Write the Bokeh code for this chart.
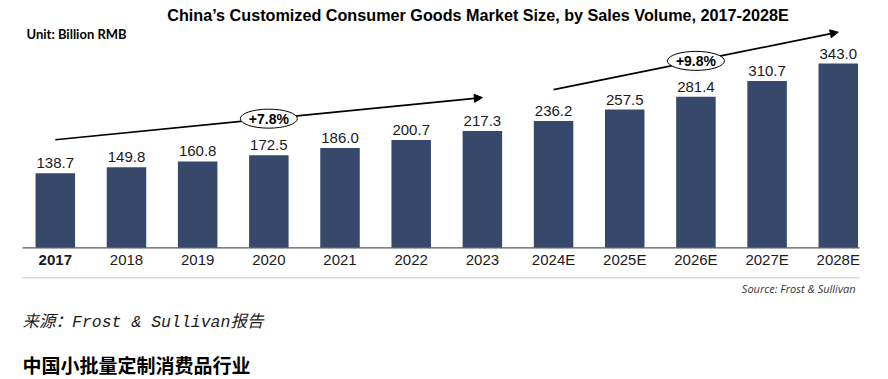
from bokeh.plotting import figure
from bokeh.models import Range1d, Label, Arrow, NormalHead, ColumnDataSource
from bokeh.core.properties import value
from bokeh.embed import file_html
from bokeh.resources import INLINE

# ---------------- data ----------------
years = ["2017", "2018", "2019", "2020", "2021", "2022", "2023",
         "2024E", "2025E", "2026E", "2027E", "2028E"]
sizes = [138.7, 149.8, 160.8, 172.5, 186.0, 200.7, 217.3,
         236.2, 257.5, 281.4, 310.7, 343.0]
cagr_labels = ["+7.8%", "+9.8%"]
cagr_start = ["2017", "2024E"]
cagr_end = ["2023", "2028E"]

title_text = "China\u2019s Customized Consumer Goods Market Size, by Sales Volume, 2017-2028E"
unit_text = "Unit: Billion RMB"
source_text = "Source: Frost & Sullivan"
cn_source_text = "来源：Frost & Sullivan报告"
cn_title_text = "中国小批量定制消费品行业"

# ---------------- styles / layout ----------------
W, H = 888, 379
BAR = "#36496a"
TXT = "#1a1a1a"
SANS = "Liberation Sans"
PX_PER_UNIT = 0.537          # vertical scale
SLOT = 71.18                 # px per category
FIRST_X = 54.8               # px centre of first category
BASE_Y = 247.3               # px of baseline from top
AX_LEFT, AX_RIGHT = 22, 859  # px extent of baseline rule

x0 = (0 - FIRST_X) / SLOT
x1 = (W - FIRST_X) / SLOT
y1 = BASE_Y / PX_PER_UNIT
y0 = -(H - BASE_Y) / PX_PER_UNIT

idx = list(range(len(years)))
src = ColumnDataSource(dict(
    x=idx, top=sizes, lbl=[f"{v:.1f}" for v in sizes], cat=years,
    zero=[0] * len(years),
    cstyle=["bold" if i == 0 else "normal" for i in idx]))

p = figure(width=W, height=H, output_backend="svg", toolbar_location=None,
           x_range=Range1d(x0, x1), y_range=Range1d(y0, y1),
           x_axis_location=None, y_axis_location=None,
           min_border_left=0, min_border_right=0, min_border_top=0,
           min_border_bottom=0)
p.outline_line_color = None
p.grid.grid_line_color = None
p.background_fill_color = "white"
p.border_fill_color = "white"

# bars + value labels
p.vbar(x="x", top="top", bottom=0, width=0.555, source=src,
       fill_color=BAR, line_color=None)
p.text(x="x", y="top", text="lbl", source=src, text_align="center",
       text_baseline="middle", y_offset=-10,
       text_font=value(SANS), text_font_size="15px", text_color=TXT)

# baseline + category labels + grey rule
lx0 = (AX_LEFT - FIRST_X) / SLOT
lx1 = (AX_RIGHT - FIRST_X) / SLOT
p.segment(x0=[lx0], y0=[0], x1=[lx1], y1=[0], line_color="#595959", line_width=1.3)
grey_y = -30 / PX_PER_UNIT
p.segment(x0=[lx0], y0=[grey_y], x1=[lx1], y1=[grey_y], line_color="#c8c8c8", line_width=1)
p.text(x="x", y="zero", text="cat", source=src, text_align="center",
       text_baseline="middle", y_offset=12, text_font=value(SANS),
       text_font_size="15px", text_font_style="cstyle", text_color=TXT)

# CAGR arrows
offsets = [62.5, 58.5]
ex, ey = [], []
for lab, s, e, off in zip(cagr_labels, cagr_start, cagr_end, offsets):
    i0, i1 = years.index(s), years.index(e)
    ya, yb = sizes[i0] + off, sizes[i1] + off
    p.add_layout(Arrow(x_start=i0, y_start=ya, x_end=i1, y_end=yb,
                       line_color="black", line_width=1.7,
                       end=NormalHead(size=8, fill_color="black", line_color="black")))
    ex.append((i0 + i1) / 2)
    ey.append((ya + yb) / 2)

p.ellipse(x=ex, y=ey, width=57, height=19, width_units="screen",
          height_units="screen", fill_color="white", line_color="black",
          line_width=1, level="overlay")
p.text(x=ex, y=ey, text=cagr_labels, text_align="center", text_baseline="middle",
       text_font=value(SANS), text_font_style="bold", text_font_size="14px",
       text_color="black", level="overlay")

# title and unit (screen units, y measured from bottom)
p.add_layout(Label(x=477.5, y=H - 14, x_units="screen", y_units="screen",
                   text=title_text, text_align="center", text_baseline="middle",
                   text_font=SANS, text_font_style="bold", text_font_size="16.2px",
                   text_color="black"))
p.add_layout(Label(x=26, y=H - 33, x_units="screen", y_units="screen",
                   text=unit_text, text_align="left", text_baseline="middle",
                   text_font="Lato", text_font_style="bold", text_font_size="13px",
                   text_color="black"))

# footer texts
p.add_layout(Label(x=855, y=H - 288, x_units="screen", y_units="screen",
                   text=source_text, text_align="right", text_baseline="middle",
                   text_font="Open Sans", text_font_style="italic",
                   text_font_size="11px", text_color="#333333"))
p.add_layout(Label(x=22, y=H - 322, x_units="screen", y_units="screen",
                   text=cn_source_text, text_align="left", text_baseline="middle",
                   text_font="'Liberation Mono', 'Noto Sans CJK SC'",
                   text_font_style="italic", text_font_size="16.5px",
                   text_color=TXT))
p.add_layout(Label(x=22, y=H - 364, x_units="screen", y_units="screen",
                   text=cn_title_text, text_align="left", text_baseline="middle",
                   text_font="Noto Sans CJK SC", text_font_style="bold",
                   text_font_size="19px", text_color="black"))

open("out.html", "w").write(file_html(p, INLINE))
